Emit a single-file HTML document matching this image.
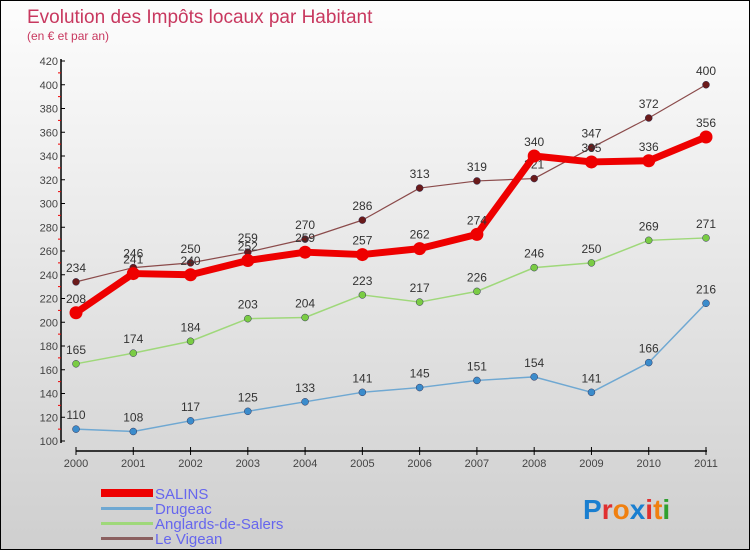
<!DOCTYPE html>
<html><head><meta charset="utf-8"><style>
body{margin:0}
#c{width:748px;height:548px;border:1px solid #000;background:linear-gradient(#fdfdfd,#cfcfcf);position:relative;overflow:hidden;font-family:"Liberation Sans",sans-serif}
text{font-family:"Liberation Sans",sans-serif}
</style></head><body>
<div id="c">
<svg id="s" width="748" height="548">
<text x="26" y="22" font-size="19" fill="#c8385f">Evolution des Impôts locaux par Habitant</text>
<text x="26" y="39" font-size="12" fill="#c8385f">(en € et par an)</text>
<g id="axes"></g><g id="series"></g>
<g>
<rect x="100" y="488" width="52" height="8" fill="#e00"/>
<text x="154" y="498" font-size="15" fill="#6666ee">SALINS</text>
<rect x="100" y="506" width="52" height="3" fill="#6fa8d2"/>
<text x="154" y="513" font-size="15" fill="#6666ee">Drugeac</text>
<rect x="100" y="521" width="52" height="3" fill="#9fd87a"/>
<text x="154" y="528" font-size="15" fill="#6666ee">Anglards-de-Salers</text>
<rect x="100" y="536" width="52" height="3" fill="#8b6060"/>
<text x="154" y="543" font-size="15" fill="#6666ee">Le Vigean</text>
</g>
<text x="582" y="518" font-size="28" font-weight="bold"><tspan fill="#1a7fd0">P</tspan><tspan fill="#e03030">r</tspan><tspan fill="#f08010">o</tspan><tspan fill="#1a7fd0">x</tspan><tspan fill="#e03030">i</tspan><tspan fill="#f08010">t</tspan><tspan fill="#30a030">i</tspan></text>
</svg></div>
<script>
const years=["2000","2001","2002","2003","2004","2005","2006","2007","2008","2009","2010","2011"];
const salins=[208,241,240,252,259,257,262,274,340,335,336,356];
const drugeac=[110,108,117,125,133,141,145,151,154,141,166,216];
const anglards=[165,174,184,203,204,223,217,226,246,250,269,271];
const vigean=[234,246,250,259,270,286,313,319,321,347,372,400];
const yTicks=[100,120,140,160,180,200,220,240,260,280,300,320,340,360,380,400,420];
const NS="http://www.w3.org/2000/svg";
const X=i=>75+i*(705-75)/11;
const Y=v=>440-(v-100)*(380/320);
function mk(t,a,p){const e=document.createElementNS(NS,t);for(const k in a)e.setAttribute(k,a[k]);p.appendChild(e);return e;}
const ax=document.getElementById('axes'),sr=document.getElementById('series');
let l=mk('line',{x1:60,y1:58,x2:60,y2:442,stroke:'#000','stroke-width':1.5},ax);


l=mk('line',{x1:75,y1:450,x2:706,y2:450,stroke:'#000','stroke-width':1.5},ax);


yTicks.forEach((v,i)=>{
 mk('line',{x1:60,y1:Y(v),x2:64,y2:Y(v),stroke:'#000'},ax);
 if(i<yTicks.length-1)mk('line',{x1:57,y1:Y(v+10),x2:60,y2:Y(v+10),stroke:'#e00'},ax);
 const t=mk('text',{x:57,y:Y(v)+4,'font-size':11,fill:'#444','text-anchor':'end'},ax);
 t.textContent=v;
 
 
});
years.forEach((y,i)=>{
 mk('line',{x1:X(i),y1:446,x2:X(i),y2:454,stroke:'#000'},ax);
 const t=mk('text',{x:X(i),y:466,'font-size':11,fill:'#444','text-anchor':'middle'},ax);
 t.textContent=y;
 
 
});
function series(d,color,w,r,fill,name,dy){
 const g=mk('g',{},sr);
 
 
 mk('polyline',{points:d.map((v,i)=>X(i)+','+Y(v)).join(' '),fill:'none',stroke:color,'stroke-width':w,'stroke-linejoin':'round'},g);
 d.forEach((v,i)=>{
  const c=mk('circle',{cx:X(i),cy:Y(v),r:r,fill:fill,stroke:r>5?'none':'#335','stroke-width':0.5},g);
  
  
  const t=mk('text',{x:X(i),y:Y(v)-dy,'font-size':12,fill:'#333','text-anchor':'middle'},g);
  t.textContent=v;
 });
}
series(drugeac,'#6fa8d2',1.5,3.5,'#3b8ccc','drugeac',10);
series(anglards,'#9fd87a',1.5,3.5,'#7acc44','anglards',10);
series(vigean,'#8b4b4b',1.2,3.5,'#6b1a1a','le-vigean',10);
series(salins,'#ee0000',7,6.5,'#ee0000','salins',10);
</script>
</body></html>
